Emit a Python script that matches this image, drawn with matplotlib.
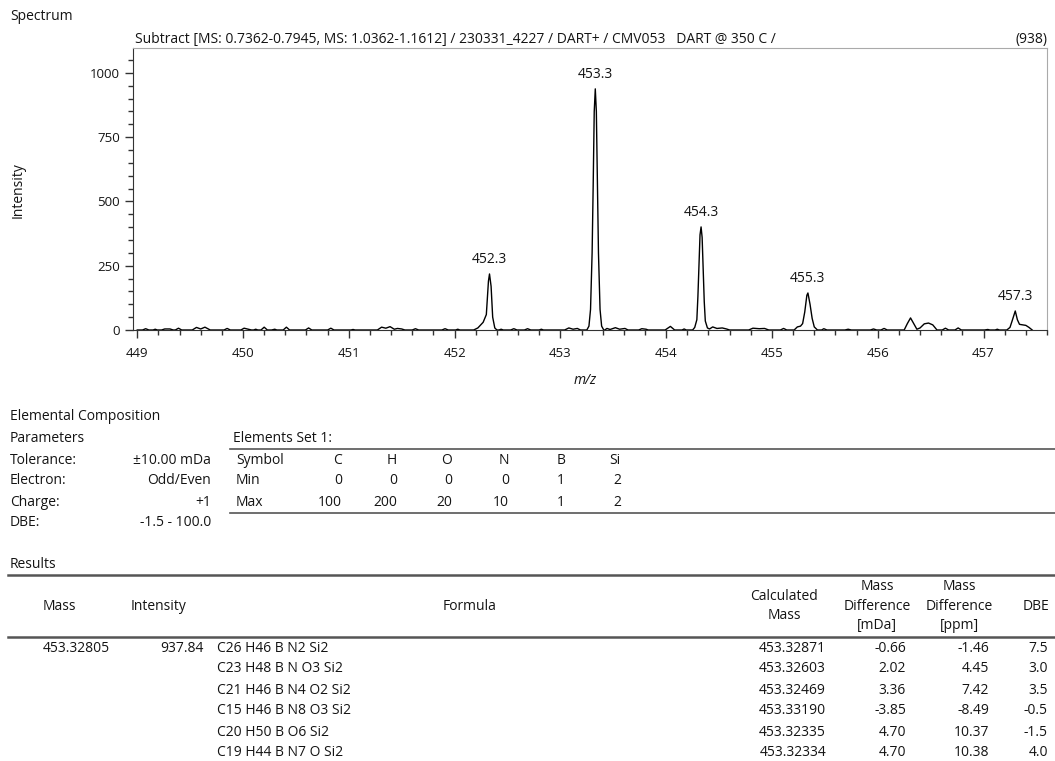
import matplotlib
matplotlib.use("Agg")
import matplotlib.pyplot as plt
from matplotlib.lines import Line2D
from matplotlib.ticker import MultipleLocator

W, H = 1055, 761

# profile spectrum: (m/z, intensity)
profile = [
    (449.00, 0), (449.05, 0), (449.08, 5), (449.11, 0), (449.15, 0), (449.17, 3), (449.19, 0),
    (449.23, 0), (449.26, 4), (449.31, 4), (449.34, 0), (449.36, 0), (449.39, 7), (449.42, 0),
    (449.52, 0), (449.56, 10), (449.60, 4), (449.64, 11), (449.69, 0), (449.82, 0), (449.85, 6),
    (449.88, 0), (449.98, 0), (450.01, 7), (450.05, 3), (450.08, 0), (450.10, 0), (450.12, 3),
    (450.14, 0), (450.17, 0), (450.20, 11), (450.23, 0), (450.27, 0), (450.30, 3), (450.32, 0),
    (450.38, 0), (450.41, 11), (450.44, 0), (450.59, 0), (450.62, 8), (450.65, 0), (450.80, 0),
    (450.83, 7), (450.86, 0), (451.02, 0), (451.04, 2), (451.06, 0), (451.27, 0), (451.31, 11),
    (451.35, 7), (451.39, 13), (451.43, 3), (451.46, 6), (451.50, 4), (451.53, 0), (451.60, 0),
    (451.63, 5), (451.66, 0), (451.88, 0), (451.91, 5), (451.94, 0), (452.01, 0), (452.03, 3),
    (452.05, 0), (452.18, 0), (452.22, 8), (452.27, 30), (452.30, 60), (452.32, 190),
    (452.33, 218), (452.345, 170), (452.36, 50), (452.38, 8), (452.40, 0), (452.42, 0),
    (452.44, 3), (452.46, 0), (452.53, 0), (452.56, 5), (452.59, 0), (452.66, 0), (452.69, 5),
    (452.72, 0), (452.80, 0), (452.82, 3), (452.84, 0), (453.04, 0), (453.08, 8), (453.12, 3),
    (453.16, 6), (453.19, 0), (453.25, 0), (453.27, 15), (453.285, 80), (453.30, 300),
    (453.31, 560), (453.32, 850), (453.33, 938), (453.34, 850), (453.35, 560), (453.36, 300),
    (453.375, 80), (453.39, 15), (453.41, 0), (453.42, 0), (453.44, 6), (453.47, 2),
    (453.52, 9), (453.56, 3), (453.61, 6), (453.64, 0), (453.74, 0), (453.77, 5), (453.81, 3),
    (453.83, 0), (453.99, 0), (454.04, 14), (454.08, 0), (454.15, 0), (454.17, 4), (454.19, 0),
    (454.25, 0), (454.27, 10), (454.29, 40), (454.30, 130), (454.31, 250), (454.32, 370),
    (454.33, 401), (454.34, 360), (454.35, 240), (454.36, 110), (454.37, 35), (454.39, 8),
    (454.41, 4), (454.44, 12), (454.48, 6), (454.53, 8), (454.57, 4), (454.60, 0),
    (454.78, 0), (454.82, 7), (454.88, 5), (454.93, 6), (454.97, 0), (455.08, 0), (455.11, 6),
    (455.14, 0), (455.21, 0), (455.24, 12), (455.27, 15), (455.29, 25), (455.31, 70),
    (455.33, 135), (455.34, 144), (455.36, 100), (455.38, 45), (455.40, 12), (455.43, 0),
    (455.47, 0), (455.49, 5), (455.52, 0), (455.69, 0), (455.72, 3), (455.75, 0), (455.93, 0),
    (455.96, 4), (455.99, 0), (456.03, 0), (456.06, 6), (456.09, 0), (456.25, 0), (456.28, 25),
    (456.31, 47), (456.34, 25), (456.37, 3), (456.40, 8), (456.44, 24), (456.48, 27),
    (456.52, 20), (456.56, 0), (456.61, 0), (456.64, 7), (456.67, 0), (456.73, 0), (456.76, 8),
    (456.79, 0), (457.01, 0), (457.04, 2), (457.06, 0), (457.11, 0), (457.13, 3), (457.15, 0),
    (457.22, 0), (457.25, 10), (457.27, 35), (457.30, 74), (457.32, 40), (457.34, 22),
    (457.37, 20), (457.40, 18), (457.43, 10), (457.46, 0),
]
mz = [p[0] for p in profile]
intensity = [p[1] for p in profile]

peak_mz = [452.33, 453.33, 454.33, 455.34, 457.30]
peak_int = [218, 938, 401, 144, 74]
peak_labels = ["452.3", "453.3", "454.3", "455.3", "457.3"]

title = ("Subtract [MS: 0.7362-0.7945, MS: 1.0362-1.1612] / 230331_4227 / DART+ / "
         "CMV053   DART @ 350 C /")

param_names = ["Tolerance:", "Electron:", "Charge:", "DBE:"]
param_values = ["\u00b110.00 mDa", "Odd/Even", "+1", "-1.5 - 100.0"]

elements = ["C", "H", "O", "N", "B", "Si"]
elem_min = ["0", "0", "0", "0", "1", "2"]
elem_max = ["100", "200", "20", "10", "1", "2"]

res_formula = ["C26 H46 B N2 Si2", "C23 H48 B N O3 Si2", "C21 H46 B N4 O2 Si2",
               "C15 H46 B N8 O3 Si2", "C20 H50 B O6 Si2", "C19 H44 B N7 O Si2"]
res_calc = ["453.32871", "453.32603", "453.32469", "453.33190", "453.32335", "453.32334"]
res_mda = ["-0.66", "2.02", "3.36", "-3.85", "4.70", "4.70"]
res_ppm = ["-1.46", "4.45", "7.42", "-8.49", "10.37", "10.38"]
res_dbe = ["7.5", "3.0", "3.5", "-0.5", "-1.5", "4.0"]
res_mass = "453.32805"
res_int = "937.84"

plt.rcParams["font.family"] = ["Open Sans", "DejaVu Sans"]
plt.rcParams["font.size"] = 10
TXT = "#141414"

fig = plt.figure(figsize=(W / 100, H / 100), dpi=100)


def fx(x):
    return x / W


def fy(y):
    return 1 - y / H


def text(x, y, s, **kw):
    kw.setdefault("va", "center")
    kw.setdefault("color", TXT)
    fig.text(fx(x), fy(y), s, **kw)


def hline(x0, x1, y, lw=1.0, color="#666666"):
    fig.add_artist(Line2D([fx(x0), fx(x1)], [fy(y), fy(y)], lw=lw, color=color))


# ---- spectrum ----
ax = fig.add_axes([fx(133), fy(330), fx(1047 - 133), (330 - 48) / H])
ax.plot(mz, intensity, color="black", lw=1.0)
ax.set_xlim(448.96, 457.6)
ax.set_ylim(0, 1097)
ax.xaxis.set_major_locator(MultipleLocator(1))
ax.xaxis.set_minor_locator(MultipleLocator(0.2))
ax.yaxis.set_major_locator(MultipleLocator(250))
ax.yaxis.set_minor_locator(MultipleLocator(50))
ax.tick_params(which="major", direction="out", length=6, width=1, color="#333333",
               labelcolor=TXT, labelsize=9.5)
ax.tick_params(which="minor", direction="out", length=3.5, width=1, color="#333333")
ax.tick_params(axis="x", pad=6)
for side in ("top", "right"):
    ax.spines[side].set_color("#aaaaaa")
for side in ("left", "bottom"):
    ax.spines[side].set_color("#333333")
for x, y, lab in zip(peak_mz, peak_int, peak_labels):
    ax.annotate(lab, (x, y), xytext=(0, 5), textcoords="offset points",
                ha="center", va="bottom", color=TXT, fontsize=10)

text(10, 17, "Spectrum")
text(135, 40, title)
text(1047, 40, "(938)", ha="right")
text(18, 190, "Intensity", rotation=90, ha="center")
text(585, 381, "m/z", ha="center", style="italic")

# ---- elemental composition ----
text(10, 417, "Elemental Composition")
text(10, 438, "Parameters")
rows_y = [460, 481, 502, 523]
for yy, name, val in zip(rows_y, param_names, param_values):
    text(10, yy, name)
    text(211, yy, val, ha="right")

text(233, 438, "Elements Set 1:")
hline(230, 1055, 449, lw=1.2, color="#555555")
text(236, 460, "Symbol")
text(236, 481, "Min")
text(236, 502, "Max")
col_x = [342, 397, 452, 509, 565, 621]
for cx, el, mn, mx in zip(col_x, elements, elem_min, elem_max):
    text(cx, 460, el, ha="right")
    text(cx, 481, mn, ha="right")
    text(cx, 502, mx, ha="right")
hline(230, 1055, 513, lw=1.2, color="#555555")

# ---- results ----
text(10, 564, "Results")
hline(8, 1055, 575, lw=1.8, color="#555555")
text(59, 606, "Mass", ha="center")
text(131, 606, "Intensity")
text(470, 606, "Formula", ha="center")
text(784, 606, "Calculated\nMass", ha="center", linespacing=1.45)
text(877, 606, "Mass\nDifference\n[mDa]", ha="center", linespacing=1.45)
text(959, 606, "Mass\nDifference\n[ppm]", ha="center", linespacing=1.45)
text(1036, 606, "DBE", ha="center")
hline(8, 1055, 637, lw=1.8, color="#555555")

res_y = [648, 669, 690, 711, 732, 752]
text(110, res_y[0], res_mass, ha="right")
text(204, res_y[0], res_int, ha="right")
for i, yy in enumerate(res_y):
    text(217, yy, res_formula[i])
    text(826, yy, res_calc[i], ha="right")
    text(906, yy, res_mda[i], ha="right")
    text(989, yy, res_ppm[i], ha="right")
    text(1048, yy, res_dbe[i], ha="right")

fig.savefig("out.png", dpi=100)
